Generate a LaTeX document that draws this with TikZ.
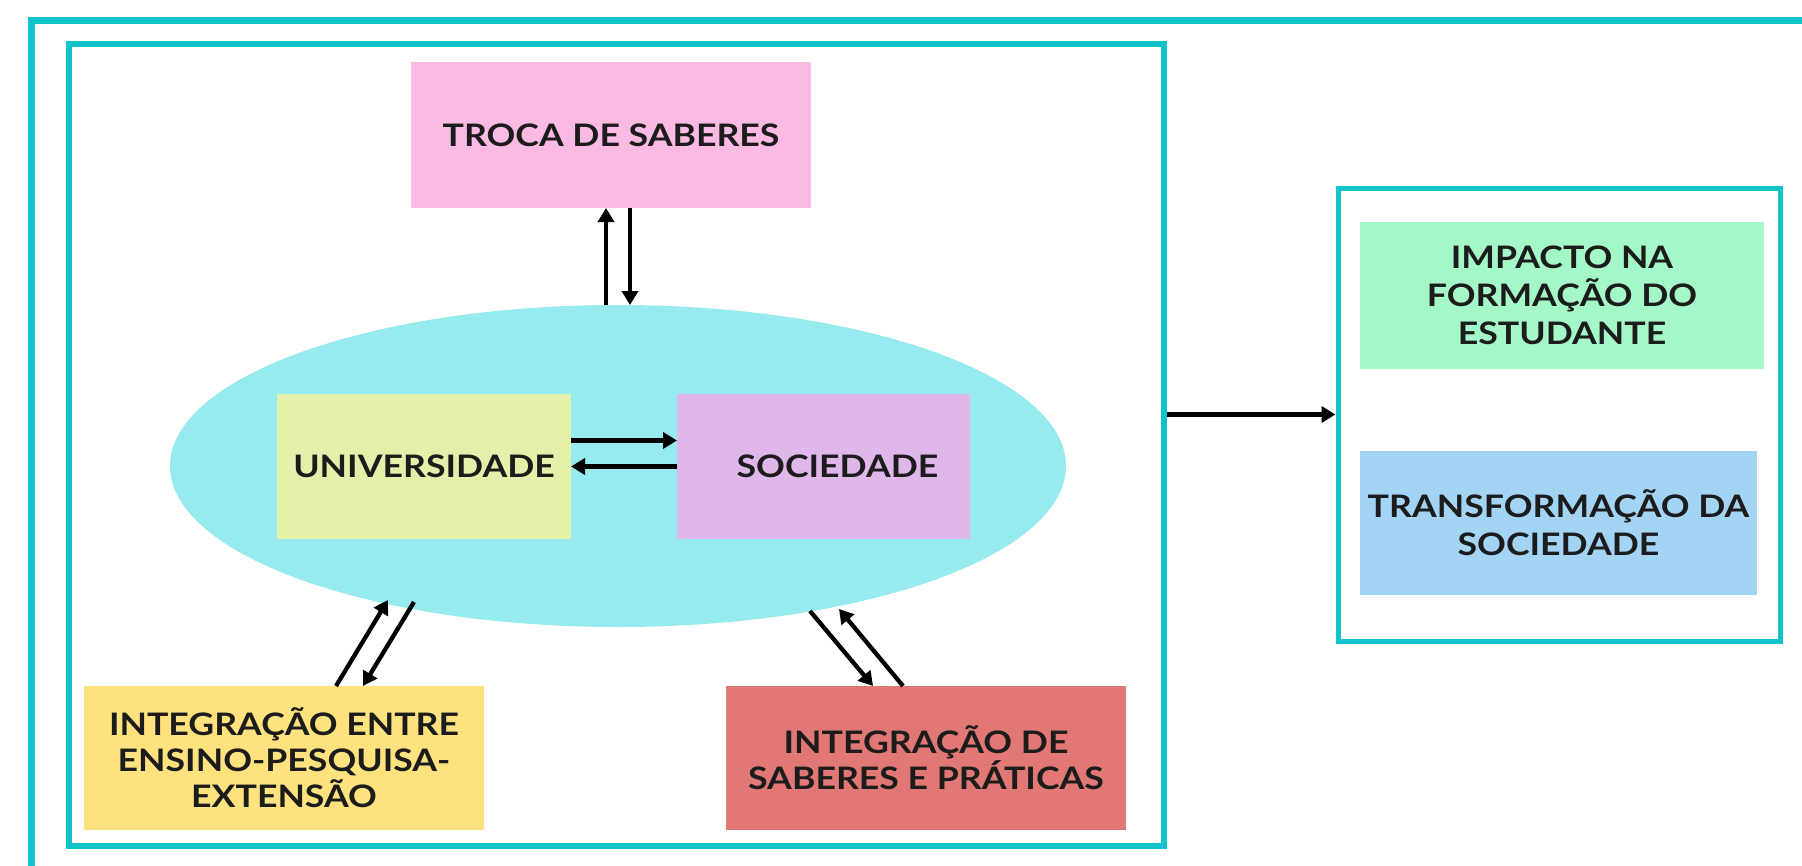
\documentclass[tikz,border=0pt]{standalone}
\usepackage{fontspec}
\setmainfont{Lato}[FakeStretch=1.15]
\usetikzlibrary{arrows.meta,calc,shapes.geometric}
\definecolor{framec}{HTML}{12C3CC}
\definecolor{pinkc}{HTML}{FBBAE3}
\definecolor{ellc}{HTML}{97EAED}
\definecolor{univc}{HTML}{E2F0A9}
\definecolor{socc}{HTML}{DFB7EA}
\definecolor{int1c}{HTML}{FDE27E}
\definecolor{int2c}{HTML}{E27875}
\definecolor{impc}{HTML}{A4F8C8}
\definecolor{trac}{HTML}{A4D4F3}
\definecolor{txtc}{HTML}{1C1C1C}
\begin{document}
\begin{tikzpicture}[x=1pt,y=-1pt,
  box/.style={rectangle, inner sep=0pt, outer sep=0pt, align=center, text=txtc,
    font=\bfseries\fontsize{31pt}{36pt}\selectfont},
  rbox/.style={box, font=\bfseries\fontsize{31pt}{38pt}\selectfont},
  frm/.style={draw=framec, rectangle, inner sep=0pt},
  arr/.style={line width=4.3pt, draw=black, -{Triangle[length=14pt,width=16pt]}}]
\useasboundingbox (0,0) rectangle (1802,865);
\clip (0,0) rectangle (1802,865);
\fill[white] (0,0) rectangle (1802,865);
% outer frame
\node[frm, line width=7pt, minimum width=1802pt, minimum height=849pt, anchor=north west] (outer) at (28,17) {};
% inner frame
\node[frm, line width=6pt, minimum width=1095pt, minimum height=802pt] (inner) at (616.5,445) {};
% ellipse
\node[ellipse, fill=ellc, inner sep=0pt, outer sep=0pt, minimum width=896pt, minimum height=322pt] (ell) at (618,466) {};
% boxes
\node[box, fill=pinkc, minimum width=400pt, minimum height=146pt] (troca) at (611,135) {TROCA DE SABERES};
\node[box, fill=univc, minimum width=294pt, minimum height=145pt] (univ) at (424,466.5) {UNIVERSIDADE};
\node[box, fill=socc, minimum width=293pt, minimum height=145pt] (soc) at (823.5,466.5) {\hspace*{28pt}SOCIEDADE};
\node[box, fill=int1c, minimum width=400pt, minimum height=144pt] (int1) at (284,758) {INTEGRAÇÃO ENTRE\\ENSINO-PESQUISA-\\EXTENSÃO};
\node[box, fill=int2c, minimum width=400pt, minimum height=144pt] (int2) at (926,758) {INTEGRAÇÃO DE\\SABERES E PRÁTICAS};
% right frame
\node[frm, line width=5pt, minimum width=442pt, minimum height=453pt] (rfrm) at (1559,414.5) {};
\node[rbox, fill=impc, minimum width=404pt, minimum height=147pt] (imp) at (1562,295.5) {IMPACTO NA\\FORMAÇÃO DO\\ESTUDANTE};
\node[rbox, fill=trac, minimum width=397pt, minimum height=144pt] (tra) at (1558.5,523) {TRANSFORMAÇÃO DA\\SOCIEDADE};
% ellipse end points
\coordinate (e1) at (388,600);
\coordinate (e2) at (414,602);
\coordinate (e3) at (810,611);
\coordinate (e4) at (839,609);
% arrows
\draw[arr] ([xshift=-5pt]troca.south |- ell.north) -- ([xshift=-5pt]troca.south);
\draw[arr] ([xshift=19pt]troca.south) -- ([xshift=19pt]troca.south |- ell.north);
\draw[arr] ([yshift=26pt]univ.east) -- ([yshift=26pt]soc.west);
\draw[arr] (soc.west) -- (univ.east);
\draw[arr] ([xshift=52pt]int1.north) -- (e1);
\draw[arr] (e2) -- ([xshift=79pt]int1.north);
\draw[arr] (e3) -- ([xshift=-53pt]int2.north);
\draw[arr] ([xshift=-23pt]int2.north) -- (e4);
\draw[arr] (inner.east |- rfrm.west) -- (rfrm.west);
\end{tikzpicture}
\end{document}
